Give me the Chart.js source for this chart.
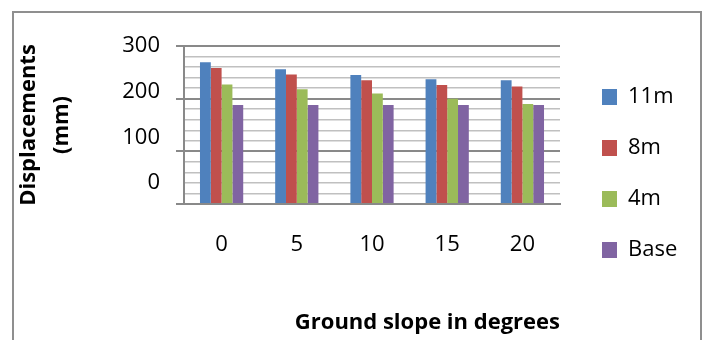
<!DOCTYPE html>
<html>
<head>
<meta charset="utf-8">
<script src="https://cdn.jsdelivr.net/npm/chart.js@4.4.1/dist/chart.umd.min.js"></script>
<style>
  html, body { margin: 0; padding: 0; background: #fff; }
  #wrap { position: relative; width: 705px; height: 340px; }
</style>
</head>
<body>
<div id="wrap"><canvas id="c" width="705" height="340"></canvas></div>
<script>
const categories = ['0', '5', '10', '15', '20'];
const series11m = [269, 256, 245, 237, 235];
const series8m = [258, 246, 235, 226, 223];
const series4m = [227, 218, 210, 200, 190];
const seriesBase = [188, 188, 188, 188, 188];
const seriesNames = ['11m', '8m', '4m', 'Base'];
const yTicks = [0, 100, 200, 300];
const xTitle = 'Ground slope in degrees';
const yTitle = ['Displacements', '(mm)'];

const colors = ['#4F81BD', '#C0504D', '#9BBB59', '#8064A2'];
const FONT = 'Open Sans';

const frame = {
  id: 'frame',
  beforeDraw(chart) {
    const ctx = chart.ctx;
    ctx.save();
    ctx.fillStyle = '#fff';
    ctx.fillRect(0, 0, chart.width, chart.height);
    ctx.strokeStyle = '#8f8f8f';
    ctx.lineWidth = 2;
    ctx.beginPath();
    ctx.moveTo(13, 345);
    ctx.lineTo(13, 12);
    ctx.lineTo(701, 12);
    ctx.lineTo(701, 345);
    ctx.stroke();
    ctx.restore();
  }
};

// vertical shift of tick labels (the reference's labels sit above their gridlines)
const tickLineHeight = { 300: 60, 200: 14, 100: 28, 0: 42 };

const data = {
  labels: categories,
  datasets: [series11m, series8m, series4m, seriesBase].map((d, i) => ({
    label: seriesNames[i],
    data: d,
    backgroundColor: colors[i],
    borderWidth: 0,
    categoryPercentage: 0.575,
    barPercentage: 1.0
  }))
};

const chart = new Chart(document.getElementById('c'), {
  type: 'bar',
  data,
  plugins: [frame],
  options: {
    responsive: false,
    devicePixelRatio: 1,
    animation: false,
    layout: { padding: { left: 4, right: 28, top: 11, bottom: 4 } },
    plugins: {
      legend: {
        position: 'right',
        align: 'center',
        maxWidth: 104,
        labels: {
          font: { family: FONT, size: 22 },
          color: '#000',
          boxWidth: 15,
          boxHeight: 16,
          padding: 29
        }
      },
      tooltip: { enabled: false }
    },
    scales: {
      x: {
        grid: { display: true, drawOnChartArea: false, drawTicks: false },
        border: { display: true, color: '#898989', width: 2 },
        ticks: { font: { family: FONT, size: 22 }, color: '#000', padding: 28 },
        title: {
          display: true, text: xTitle, align: 'end', color: '#000',
          font: { family: FONT, size: 22, weight: 'bold', lineHeight: 1.2 },
          padding: { top: 51.2, bottom: 0 }
        },
        afterFit: (s) => { s.height = 132; }
      },
      y: {
        min: 0, max: 300,
        grid: {
          color: (c) => (c.tick && c.tick.value % 100 === 0) ? '#898989' : '#C0C0C0',
          lineWidth: (c) => (c.tick && c.tick.value % 100 === 0) ? 2 : 1.5,
          tickColor: (c) => (c.tick && c.tick.value % 100 === 0) ? '#898989' : 'rgba(0,0,0,0)',
          tickLength: 8
        },
        border: { display: true, color: '#898989', width: 2 },
        ticks: {
          stepSize: 20,
          autoSkip: false,
          color: '#000',
          padding: 16,
          font: (c) => {
            const v = c.tick ? c.tick.value : null;
            const lh = (v in tickLineHeight) ? tickLineHeight[v] + 'px' : 1.2;
            return { family: FONT, size: 22, lineHeight: lh };
          },
          callback: (v) => {
            if (!yTicks.includes(v)) return '';
            return v === 300 ? String(v) : [String(v), ''];
          }
        },
        title: {
          display: true, text: yTitle, color: '#000',
          font: { family: FONT, size: 22, weight: 'bold', lineHeight: 1.5 },
          padding: { top: 8.5, bottom: 43.5 }
        },
        afterFit: (s) => { s.width = 180; }
      },
      yR: {
        type: 'linear', position: 'right', display: true,
        grid: { display: false }, border: { display: false },
        ticks: { display: false },
        afterFit: (s) => { s.width = 13; }
      }
    }
  }
});
</script>
</body>
</html>
